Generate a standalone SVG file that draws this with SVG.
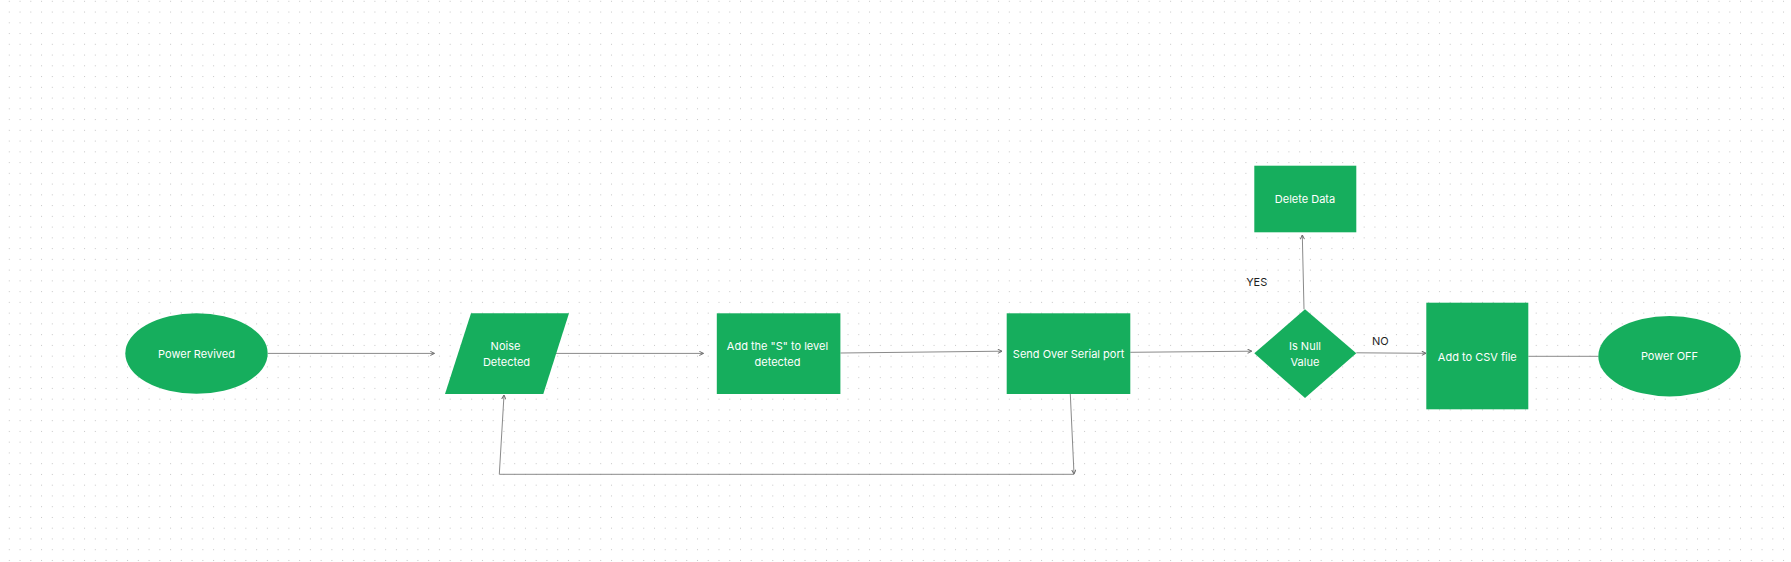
<svg xmlns="http://www.w3.org/2000/svg" width="1791" height="562" viewBox="0 0 1791 562">
<style>
.node{fill:#16AE5D;}
.lbl{font-family:Inter,"Liberation Sans",sans-serif;font-size:11px;fill:#ffffff;text-anchor:middle;}
.edge-lbl{font-family:Inter,"Liberation Sans",sans-serif;font-size:11px;fill:#1e1e1e;text-anchor:middle;}
.conn{fill:none;stroke:#8a8a8a;stroke-width:1;}
</style>
<defs>
<pattern id="dots" x="8.8" y="0.8" width="10.753" height="10.753" patternUnits="userSpaceOnUse">
<rect x="0" y="0" width="1" height="1" fill="#c6c6c6"/>
</pattern>
<marker id="arr" viewBox="0 0 6 6" refX="5.5" refY="3" markerWidth="5" markerHeight="5" markerUnits="userSpaceOnUse" orient="auto">
<path d="M0.5,0.5 L5.5,3 L0.5,5.5" fill="none" stroke="#6e6e6e" stroke-width="1.2"/>
</marker>
</defs>
<rect x="0" y="0" width="1791" height="562" fill="#ffffff"/>
<rect x="0" y="0" width="1791" height="562" fill="url(#dots)"/>

<g id="connectors">
<line class="conn" x1="268" y1="353.4" x2="434.5" y2="353.4" marker-end="url(#arr)"/>
<line class="conn" x1="556" y1="353.4" x2="703.5" y2="353.4" marker-end="url(#arr)"/>
<line class="conn" x1="840.5" y1="353" x2="1002" y2="351.2" marker-end="url(#arr)"/>
<line class="conn" x1="1130.3" y1="352.3" x2="1251.7" y2="351.2" marker-end="url(#arr)"/>
<line class="conn" x1="1304" y1="309.3" x2="1302.3" y2="235" marker-end="url(#arr)"/>
<line class="conn" x1="1356.3" y1="352.8" x2="1426" y2="353.3" marker-end="url(#arr)"/>
<line class="conn" x1="1528.3" y1="356.3" x2="1598.3" y2="356.3"/>
<line class="conn" x1="1070.3" y1="394" x2="1074" y2="474" marker-end="url(#arr)"/>
<path class="conn" d="M1074,474.3 L499.3,474.3 L504,395" marker-end="url(#arr)"/>
</g>

<g id="power-revived">
<ellipse class="node" cx="196.5" cy="353.5" rx="71.2" ry="40.2"/>
<text class="lbl" x="196.5" y="357.5">Power Revived</text>
</g>

<g id="noise-detected">
<polygon class="node" points="471,313.3 569,313.3 543.3,394 445,394"/>
<text class="lbl" x="505.5" y="350">Noise</text>
<text class="lbl" x="506.5" y="366">Detected</text>
</g>

<g id="add-s">
<rect class="node" x="716.8" y="313.3" width="123.6" height="80.7"/>
<text class="lbl" x="777.5" y="350">Add the "S" to level</text>
<text class="lbl" x="777.5" y="366">detected</text>
</g>

<g id="send-serial">
<rect class="node" x="1006.7" y="313.3" width="123.6" height="80.7"/>
<text class="lbl" x="1068.6" y="358">Send Over Serial port</text>
</g>

<g id="is-null">
<polygon class="node" points="1305,309.3 1356.3,353.3 1305,398 1254.3,353.3"/>
<text class="lbl" x="1305" y="350">Is Null</text>
<text class="lbl" x="1305" y="366">Value</text>
</g>

<g id="delete-data">
<rect class="node" x="1254.3" y="165.7" width="102" height="66.6"/>
<text class="lbl" x="1305" y="203.3">Delete Data</text>
</g>

<g id="add-csv">
<rect class="node" x="1426.3" y="302.7" width="102" height="106.6"/>
<text class="lbl" x="1477.3" y="361">Add to CSV file</text>
</g>

<g id="power-off">
<ellipse class="node" cx="1669.5" cy="356.2" rx="71.2" ry="40.2"/>
<text class="lbl" x="1669.5" y="360.2">Power OFF</text>
</g>

<g id="edge-labels">
<text class="edge-lbl" x="1256.7" y="285.7">YES</text>
<text class="edge-lbl" x="1380.3" y="344.7">NO</text>
</g>
</svg>
